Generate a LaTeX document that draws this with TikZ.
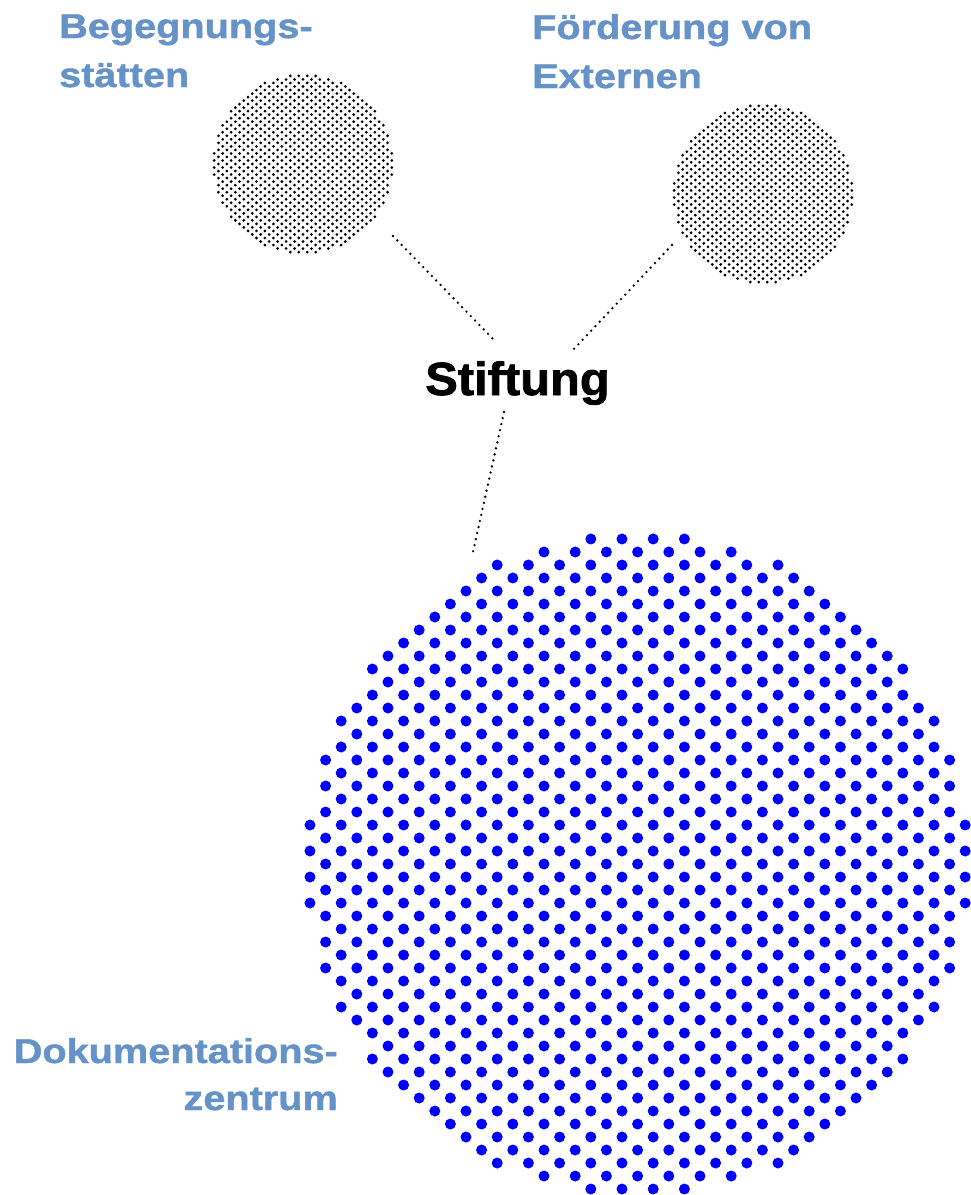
\documentclass[tikz,border=0pt]{standalone}
\usepackage{fontspec}
\setmainfont{Liberation Sans}
\newfontfamily\lblfont[UprightFont={* Bold},FakeStretch=1.15,FakeBold=1.2]{Liberation Sans}
\newfontfamily\titlefont[UprightFont={* Bold},FakeStretch=1.05,FakeBold=1.6]{Liberation Sans}
\definecolor{lblblue}{RGB}{101,146,199}
\definecolor{dotblue}{RGB}{0,0,255}
\newcommand{\dotdisc}[2]{%
  \foreach \j in {0,...,50}{%
    \foreach \k in {0,...,42}{%
      \pgfmathsetmacro\ddx{(\k-21)*0.156}%
      \pgfmathsetmacro\ddy{(\j-25)*0.13}%
      \pgfmathtruncatemacro\okdot{(mod(\j+\k,2)==0)&&(\ddx*\ddx+\ddy*\ddy<=11.0224)}%
      \ifnum\okdot=1
        \fill[#1] (\ddx*100,\ddy*100) circle (#2);
      \fi
    }%
  }%
}
\tikzset{
  lbl/.style={inner sep=0pt, text=lblblue, font=\lblfont\fontsize{34.5}{40}\selectfont},
  conn/.style={line width=2.6pt, line cap=round, dash pattern=on 0pt off 6.2pt, black},
  disc/.style={circle, inner sep=0pt, draw=none}
}
\begin{document}
\begin{tikzpicture}[x=1pt,y=-1pt]
\useasboundingbox (0,0) rectangle (970,1195);
% discs
\node[disc, minimum size=180pt] (beg) at (303,164) {};
\node[disc, minimum size=180pt] (foe) at (763,194) {};
\node[disc, minimum size=665pt] (dok) at (637.6,864) {};
\begin{scope}[shift={(303,164)}, scale=0.271]
  \dotdisc{black}{5.6}
\end{scope}
\begin{scope}[shift={(763,194)}, scale=0.271]
  \dotdisc{black}{5.6}
\end{scope}
\begin{scope}[shift={(637.6,864)}]
  \dotdisc{dotblue}{5.5}
\end{scope}
% centre label
\node[inner sep=0pt, anchor=base, font=\titlefont\fontsize{46.5}{50}\selectfont] (stift) at (517.5,395) {Stiftung};
% connectors
\coordinate (a1) at (393,236);
\coordinate (a2) at (494,340);
\coordinate (b1) at (672,245);
\coordinate (b2) at (572,351);
\coordinate (c1) at (504,412);
\coordinate (c2) at (473,552);
\draw[conn] (a1) -- (a2);
\draw[conn] (b1) -- (b2);
\draw[conn] (c1) -- (c2);
% labels
\node[lbl, anchor=base west] (beg1) at (59,38) {Begegnungs-};
\node[lbl, anchor=base west] (beg2) at (59,87) {stätten};
\node[lbl, anchor=base west] (foe1) at (532,39) {Förderung von};
\node[lbl, anchor=base west] (foe2) at (532,88) {Externen};
\node[lbl, anchor=base east] (dok1) at (338,1063) {Dokumentations-};
\node[lbl, anchor=base east] (dok2) at (338,1110) {zentrum};
\end{tikzpicture}
\end{document}
